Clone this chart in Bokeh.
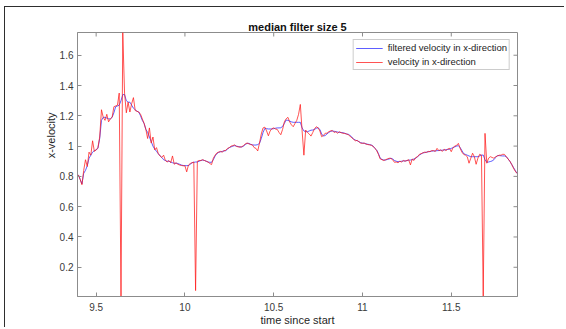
import numpy as np
from math import pi
from bokeh.plotting import figure
from bokeh.models import Range1d, FixedTicker, Title, Legend, LegendItem
from bokeh.embed import file_html
from bokeh.resources import INLINE

# sampling grid (s)
t_start = 9.40
dt = 0.01

# raw velocity in x-direction (red)
velocity = [
    0.81, 0.78, 0.745, 0.84, 0.91, 0.865, 0.96, 0.94, 1.035, 0.965,
    0.975, 0.99, 1.06, 1.24, 1.19, 1.17, 1.21, 1.16, 1.18, 1.19,
    1.26, 1.265, 1.27, 1.35, 0.01, 1.75, 1.35, 1.22, 1.29, 1.225,
    1.28, 1.32, 1.235, 1.23, 1.225, 1.21, 1.18, 1.15, 1.11, 1.05,
    1.12, 1.02, 1.06, 0.975, 0.99, 0.95, 0.935, 0.925, 0.94, 0.905,
    0.895, 0.905, 0.89, 0.935, 0.88, 0.89, 0.88, 0.875, 0.872, 0.87,
    0.87, 0.83, 0.875, 0.885, 0.89, 0.895, 0.046, 0.90, 0.905, 0.905,
    0.91, 0.905, 0.90, 0.895, 0.885, 0.878, 0.92, 0.94, 0.955, 0.96,
    0.965, 0.96, 0.97, 0.972, 0.985, 0.99, 1.0, 1.003, 1.008, 0.998,
    0.995, 0.993, 0.996, 1.003, 1.015, 1.02, 1.015, 1.01, 1.008, 0.99,
    0.985, 0.968, 1.02, 1.08, 1.12, 1.125, 1.10, 1.068, 1.10, 1.115,
    1.12, 1.113, 1.11, 1.09, 1.075, 1.11, 1.16, 1.18, 1.19, 1.16,
    1.14, 1.128, 1.15, 1.17, 1.21, 1.275, 1.10, 0.94, 1.106, 1.09,
    1.08, 1.066, 1.09, 1.115, 1.128, 1.12, 1.10, 1.062, 1.07, 1.085,
    1.085, 1.095, 1.10, 1.103, 1.09, 1.095, 1.085, 1.095, 1.088, 1.085,
    1.083, 1.08, 1.075, 1.065, 1.055, 1.045, 1.035, 1.038, 1.028, 1.02,
    1.018, 1.02, 1.013, 1.01, 1.008, 1.005, 0.998, 0.985, 0.97, 0.945,
    0.915, 0.91, 0.905, 0.91, 0.915, 0.92, 0.918, 0.91, 0.893, 0.895,
    0.89, 0.90, 0.895, 0.905, 0.90, 0.905, 0.91, 0.876, 0.915, 0.905,
    0.925, 0.93, 0.945, 0.95, 0.955, 0.96, 0.958, 0.965, 0.963, 0.97,
    0.97, 0.965, 0.985, 0.97, 0.975, 0.965, 0.98, 0.97, 0.98, 0.985,
    0.963, 0.99, 1.0, 1.005, 1.018, 0.985, 0.96, 0.945, 0.94, 0.93,
    0.887, 0.92, 0.953, 0.93, 0.88, 0.92, 0.946, 0.94, 0.01, 1.084,
    0.887, 0.92, 0.93, 0.925, 0.92, 0.93, 0.935, 0.94, 0.94, 0.946,
    0.945, 0.93, 0.915, 0.90, 0.88, 0.855, 0.835, 0.82,
]

# median-filtered velocity (blue)
filtered = [
    0.81, 0.78, 0.75, 0.82, 0.84, 0.87, 0.92, 0.94, 0.96, 0.97,
    0.975, 0.985, 1.05, 1.17, 1.19, 1.19, 1.185, 1.18, 1.18, 1.19,
    1.22, 1.26, 1.265, 1.27, 1.30, 1.34, 1.34, 1.30, 1.29, 1.29,
    1.27, 1.25, 1.24, 1.23, 1.225, 1.20, 1.17, 1.15, 1.11, 1.09,
    1.06, 1.03, 1.00, 0.98, 0.965, 0.95, 0.935, 0.925, 0.91, 0.905,
    0.90, 0.90, 0.895, 0.89, 0.887, 0.887, 0.885, 0.88, 0.875, 0.872,
    0.871, 0.871, 0.872, 0.88, 0.89, 0.893, 0.895, 0.895, 0.90, 0.905,
    0.908, 0.905, 0.90, 0.895, 0.893, 0.893, 0.91, 0.935, 0.95, 0.959,
    0.962, 0.965, 0.968, 0.97, 0.98, 0.99, 0.995, 1.0, 1.003, 1.0,
    0.997, 0.995, 0.994, 1.0, 1.01, 1.018, 1.018, 1.012, 1.008, 1.007,
    1.007, 1.01, 1.018, 1.05, 1.09, 1.117, 1.115, 1.113, 1.113, 1.113,
    1.115, 1.118, 1.12, 1.12, 1.121, 1.13, 1.15, 1.172, 1.17, 1.165,
    1.16, 1.157, 1.157, 1.157, 1.157, 1.157, 1.12, 1.10, 1.095, 1.095,
    1.10, 1.105, 1.106, 1.11, 1.118, 1.121, 1.11, 1.08, 1.066, 1.07,
    1.08, 1.09, 1.097, 1.10, 1.098, 1.095, 1.093, 1.09, 1.09, 1.088,
    1.085, 1.08, 1.078, 1.07, 1.06, 1.045, 1.04, 1.035, 1.03, 1.022,
    1.02, 1.018, 1.015, 1.012, 1.01, 1.007, 1.0, 0.985, 0.974, 0.95,
    0.92, 0.912, 0.908, 0.908, 0.912, 0.915, 0.92, 0.915, 0.905, 0.90,
    0.897, 0.898, 0.90, 0.902, 0.902, 0.904, 0.907, 0.908, 0.91, 0.915,
    0.92, 0.93, 0.94, 0.948, 0.955, 0.957, 0.96, 0.962, 0.965, 0.967,
    0.968, 0.968, 0.97, 0.971, 0.972, 0.973, 0.974, 0.976, 0.978, 0.98,
    0.985, 0.99, 0.995, 1.0, 1.003, 0.99, 0.97, 0.95, 0.945, 0.94,
    0.935, 0.93, 0.93, 0.93, 0.93, 0.93, 0.935, 0.94, 0.941, 0.91,
    0.893, 0.895, 0.898, 0.902, 0.91, 0.925, 0.937, 0.937, 0.936, 0.935,
    0.935, 0.93, 0.915, 0.90, 0.88, 0.86, 0.84, 0.82,
]

time = np.round(t_start + dt * np.arange(len(velocity)), 2)

x_ticks = [9.5, 10, 10.5, 11, 11.5]
x_tick_labels = ["9.5", "10", "10.5", "11", "11.5"]
y_ticks = [0.2, 0.4, 0.6, 0.8, 1.0, 1.2, 1.4, 1.6]
y_tick_labels = ["0.2", "0.4", "0.6", "0.8", "1", "1.2", "1.4", "1.6"]
x_limits = (9.395, 11.873)
y_limits = (0.007, 1.75)

title_text = "median filter size 5"
x_label = "time since start"
y_label = "x-velocity"
legend_labels = ["filtered velocity in x-direction", "velocity in x-direction"]

FONT = "Liberation Sans"
AX = "#8c8c8c"
TXT = "#3a3a3a"

p = figure(width=560, height=321, output_backend="svg", toolbar_location=None,
           x_range=Range1d(*x_limits), y_range=Range1d(*y_limits),
           min_border_left=72, min_border_right=48, min_border_top=25, min_border_bottom=31)
p.styles = {"margin-left": "4px", "margin-top": "6px",
            "border-left": "1px solid #2e2e2e", "border-top": "1px solid #2e2e2e"}
p.background_fill_color = "white"
p.border_fill_color = "white"
p.outline_line_color = AX
p.xgrid.grid_line_color = None
p.ygrid.grid_line_color = None

r_blue = p.line(time, filtered, line_color="#1a1aff", line_width=1, line_alpha=0.7)
r_red = p.line(time, velocity, line_color="#ff1a1a", line_width=1, line_alpha=0.75)

# inward ticks on the top and right edges of the box
p.ray(x=x_ticks, y=[y_limits[1]] * len(x_ticks), length=4, length_units="screen",
      angle=-pi / 2, line_color=AX, line_width=1)
p.ray(x=[x_limits[1]] * len(y_ticks), y=y_ticks, length=4, length_units="screen",
      angle=pi, line_color=AX, line_width=1)

xa = p.xaxis[0]
xa.ticker = FixedTicker(ticks=x_ticks)
xa.major_label_overrides = {k: v for k, v in zip(x_ticks, x_tick_labels)}
ya = p.yaxis[0]
ya.ticker = FixedTicker(ticks=y_ticks)
ya.major_label_overrides = {k: v for k, v in zip(y_ticks, y_tick_labels)}
for ax in (xa, ya):
    ax.axis_line_color = AX
    ax.major_tick_line_color = AX
    ax.major_tick_in = 4
    ax.major_tick_out = 0
    ax.minor_tick_line_color = None
    ax.major_label_text_font = FONT
    ax.major_label_text_font_size = "10px"
    ax.major_label_text_color = TXT
xa.major_label_standoff = 6
ya.major_label_standoff = 4
xa.axis_label = x_label
xa.axis_label_standoff = 0
xa.axis_label_text_font = FONT
xa.axis_label_text_font_size = "11px"
xa.axis_label_text_font_style = "normal"
xa.axis_label_text_color = "#262626"

p.title.text = title_text
p.title.align = "center"
p.title.text_font = FONT
p.title.text_font_size = "11px"
p.title.text_font_style = "bold"
p.title.text_color = "#111111"
p.title.standoff = 0

ylab = Title(text=y_label, align="right", offset=80, standoff=0, text_font=FONT,
             text_font_size="11px", text_font_style="normal", text_color="#262626")
p.add_layout(ylab, "left")

legend = Legend(items=[LegendItem(label=legend_labels[0], renderers=[r_blue]),
                       LegendItem(label=legend_labels[1], renderers=[r_red])],
                location="top_right")
legend.margin = 7
legend.padding = 2
legend.spacing = 3
legend.glyph_width = 27
legend.glyph_height = 10
legend.label_height = 10
legend.label_standoff = 5
legend.label_text_font = FONT
legend.label_text_font_size = "9.5px"
legend.label_text_color = "#222222"
legend.border_line_color = "#9a9a9a"
legend.border_line_width = 1
legend.background_fill_color = "white"
legend.background_fill_alpha = 1
p.add_layout(legend, "center")

open("out.html", "w").write(file_html(p, INLINE))
